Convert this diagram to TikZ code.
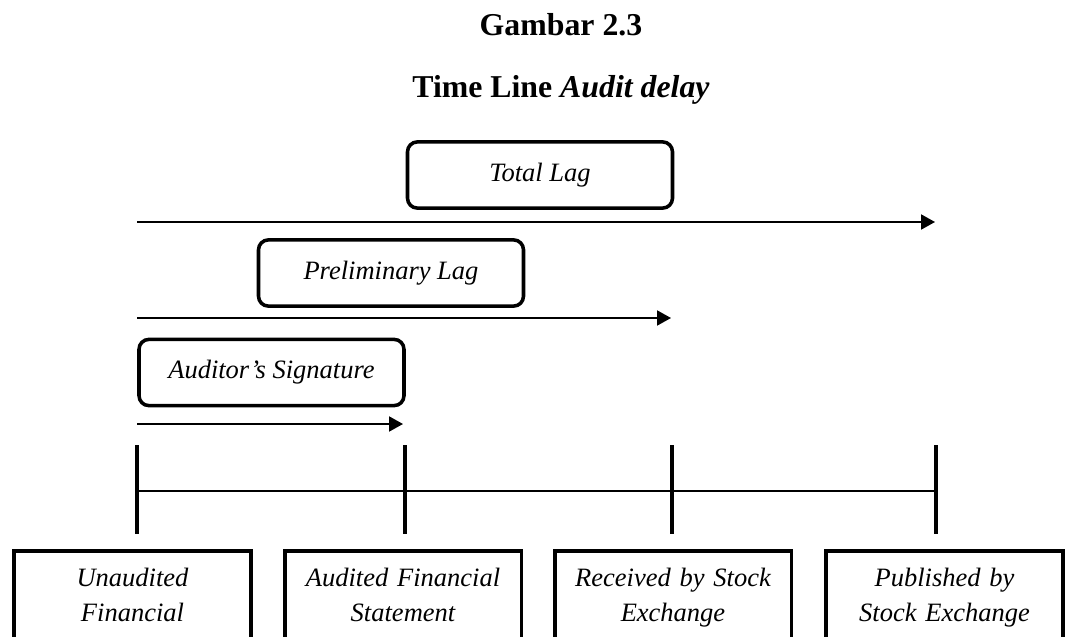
\documentclass[12pt,tikz,border=0pt]{standalone}
\usepackage{fontspec}
\setmainfont{Liberation Serif}
\usepackage{tikz}
\usetikzlibrary{arrows.meta,positioning,calc}
\tikzset{
  lagbox/.style={draw,line width=1.6pt,rounded corners=4.5pt,align=center,
    minimum width=120pt,minimum height=30pt,inner sep=0pt,font=\itshape},
  eventbox/.style={draw,line width=1.8pt,align=center,text width=100pt,
    minimum width=107.3pt,minimum height=42.6pt,inner xsep=3pt,inner ysep=0pt,
    text height=9pt,text depth=19pt,font=\fontsize{12}{15.8}\selectfont\itshape},
  lagarrow/.style={-{Triangle[length=6.3pt,width=6.8pt]},line width=0.8pt},
  tickline/.style={line width=1.8pt},
  axisline/.style={line width=0.9pt},
  titlelabel/.style={font=\large\bfseries,anchor=base}
}
\begin{document}
\begin{tikzpicture}[x=0.4528pt,y=-0.4528pt]
  \useasboundingbox (0,0) rectangle (1067,637);
  \clip (0,0) rectangle (1067,637);
  % titles
  \node[titlelabel] (gambar) at (561,35) {Gambar 2.3};
  \node[titlelabel] (judul) at (561,97) {Time Line \textit{Audit delay}};
  % time line
  \foreach \i/\x in {1/137,2/405,3/672,4/936} {
    \coordinate (t\i) at (\x,491);
    \draw[tickline] (\x,445) -- (\x,534);
  }
  \draw[axisline] (t1) -- (t4);
  % lags
  \node[lagbox] (total) at (540,175) {Total Lag};
  \node[lagbox] (prelim) at (391,273) {Preliminary Lag};
  \node[lagbox] (auditor) at (271.5,372.5) {Auditor’s Signature};
  \draw[lagarrow] (t1 |- 0,222) -- (935,222);
  \draw[lagarrow] (t1 |- 0,318) -- (671,318);
  \draw[lagarrow] (t1 |- 0,424) -- (403,424);
  % events
  \node[eventbox] (unaudited) at (132.5,598) {Unaudited\\Financial};
  \node[eventbox] (audited) at (403,598) {Audited Financial\\Statement};
  \node[eventbox] (received) at (673,598) {Received by Stock\\Exchange};
  \node[eventbox] (published) at (944.5,598) {Published by\\Stock Exchange};
\end{tikzpicture}
\end{document}
